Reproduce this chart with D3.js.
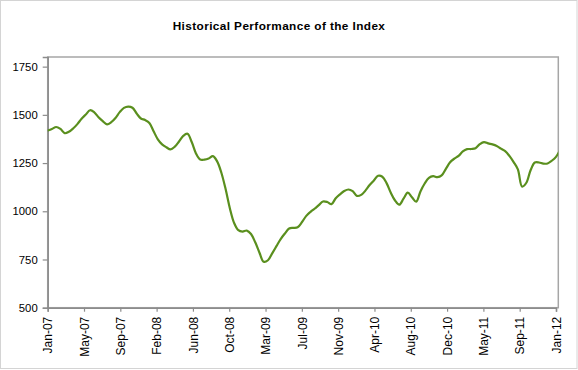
<!DOCTYPE html>
<html>
<head>
<meta charset="utf-8">
<script src="https://cdn.jsdelivr.net/npm/d3@7"></script>
<style>
  html, body { margin: 0; padding: 0; background: #fff; }
  svg { display: block; }
</style>
</head>
<body>
<svg id="chart" width="578" height="370"></svg>
<script>
// ---- Data (half-month steps starting Jan-07) ----
const title = "Historical Performance of the Index";
const xTickLabels = ["Jan-07","May-07","Sep-07","Feb-08","Jun-08","Oct-08","Mar-09","Jul-09",
                     "Nov-09","Apr-10","Aug-10","Dec-10","May-11","Sep-11","Jan-12"];
const yTicks = [500, 750, 1000, 1250, 1500, 1750];
const indexValues = [
  1419,1427,1437,1427,1405,1412,1429,1452,1480,1502,
  1524,1513,1487,1467,1451,1462,1484,1514,1536,1543,
  1537,1507,1481,1473,1458,1415,1373,1347,1332,1321,
  1335,1362,1391,1402,1359,1300,1268,1268,1274,1286,
  1259,1200,1115,1016,940,902,895,900,882,839,
  785,738,746,782,819,856,885,911,914,917,
  943,975,996,1013,1032,1051,1048,1037,1068,1088,
  1105,1113,1104,1080,1085,1107,1136,1160,1184,1179,
  1146,1096,1056,1034,1065,1097,1073,1050,1103,1144,
  1173,1182,1177,1186,1220,1254,1273,1287,1310,1322,
  1323,1327,1348,1359,1352,1347,1339,1325,1312,1287,
  1255,1217,1128,1148,1213,1253,1253,1247,1248,1262,
  1282,1319
];
const pointsPerMonth = 2;
const monthsSpan = 60;

// ---- Layout ----
const svg = d3.select("#chart");
const W = 578, H = 370;
const plot = { left: 47.7, top: 57, right: 558.3, bottom: 307.7 };
const pw = plot.right - plot.left, ph = plot.bottom - plot.top;

// outer border
svg.append("rect").attr("x", 0.5).attr("y", 0.5).attr("width", W - 1.5).attr("height", H - 2)
  .attr("fill", "#fff").attr("stroke", "#d4d4d4").attr("stroke-width", 1);

// title
svg.append("text").attr("x", 279).attr("y", 29.5).attr("text-anchor", "middle")
  .attr("font-family", "Liberation Sans, Arial, sans-serif").attr("font-weight", "bold")
  .attr("font-size", 11.8).attr("letter-spacing", 0.4).attr("fill", "#000").text(title);

const x = d3.scaleLinear().domain([0, monthsSpan]).range([0, 508.3]);
const y = d3.scaleLinear().domain([500, 1800]).range([ph, 0]);

const g = svg.append("g").attr("transform", `translate(${plot.left},${plot.top})`);

// plot frame
g.append("rect").attr("x", 0).attr("y", 0).attr("width", pw).attr("height", ph)
  .attr("fill", "none").attr("stroke", "#a6a6a6").attr("stroke-width", 1.5);

// clip
svg.append("defs").append("clipPath").attr("id", "clip")
  .append("rect").attr("x", 0).attr("y", 0).attr("width", pw).attr("height", ph);

// y axis
const yAxis = g.append("g").call(d3.axisLeft(y).tickValues(yTicks).tickSize(5).tickPadding(5).tickFormat(d3.format("d")));
yAxis.select(".domain").attr("stroke", "#8c8c8c").attr("stroke-width", 1.5);
yAxis.selectAll(".tick line").attr("stroke", "#8c8c8c").attr("stroke-width", 1.2);
yAxis.selectAll(".tick text").attr("font-family", "Liberation Sans, Arial, sans-serif")
  .attr("font-size", 11.3).attr("fill", "#000");

// x axis
const xTickVals = xTickLabels.map((_, i) => i * monthsSpan / (xTickLabels.length - 1));
const xAxis = g.append("g").attr("transform", `translate(0,${ph})`)
  .call(d3.axisBottom(x).tickValues(xTickVals).tickSize(4).tickFormat((d, i) => xTickLabels[i]));
xAxis.select(".domain").attr("stroke", "#8c8c8c").attr("stroke-width", 1.5);
xAxis.selectAll(".tick line").attr("stroke", "#8c8c8c").attr("stroke-width", 1.2);
xAxis.selectAll(".tick text")
  .attr("font-family", "Liberation Sans, Arial, sans-serif").attr("font-size", 12).attr("fill", "#000")
  .attr("text-anchor", "end").attr("transform", "rotate(-90)")
  .attr("x", -9).attr("y", 0).attr("dy", "0.35em");

// line
const line = d3.line()
  .x((d, i) => x(i / pointsPerMonth))
  .y(d => y(d))
  .curve(d3.curveCatmullRom.alpha(0.5));
g.append("path").datum(indexValues)
  .attr("clip-path", "url(#clip)")
  .attr("d", line)
  .attr("fill", "none").attr("stroke", "#5a8f1e").attr("stroke-width", 2.2)
  .attr("stroke-linejoin", "round").attr("stroke-linecap", "round");
</script>
</body>
</html>
